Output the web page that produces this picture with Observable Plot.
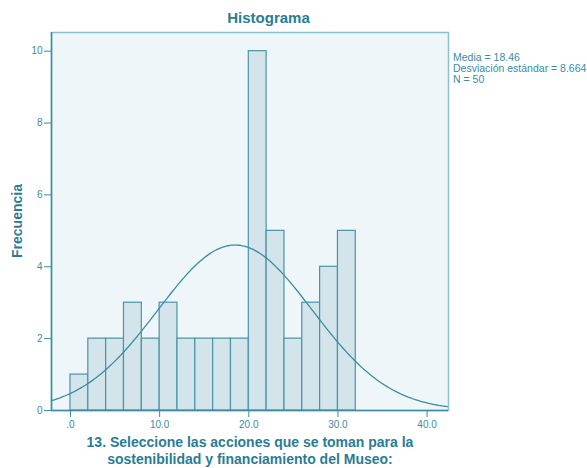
<!DOCTYPE html>
<html><head><meta charset="utf-8">
<script src="https://cdn.jsdelivr.net/npm/d3@7"></script>
<script src="https://cdn.jsdelivr.net/npm/@observablehq/plot@0.6"></script>
<style>
body{margin:0;background:#fff;font-family:"Liberation Sans",Arial,sans-serif;}
#wrap{position:relative;width:587px;height:468px;}
#wrap svg{position:absolute;left:0;top:0;}
.t{position:absolute;color:#2b7c93;white-space:nowrap;}
</style></head><body>
<div id="wrap">
<div class="t" style="left:0;width:537px;top:9px;text-align:center;font-size:15px;font-weight:bold;">Histograma</div>
<div class="t" style="left:453px;top:52px;font-size:10.5px;line-height:11px;color:#3a8ba2;">Media = 18.46<br>Desviación estándar = 8.664<br>N = 50</div>
<div class="t" style="left:17px;top:221px;transform:translate(-50%,-50%) rotate(-90deg);font-size:14px;font-weight:bold;">Frecuencia</div>
<div class="t" style="left:50px;width:400px;top:434px;text-align:center;font-size:14px;font-weight:bold;line-height:17px;">13. Seleccione las acciones que se toman para la<br>sostenibilidad y financiamiento del Museo:</div>
</div>
<script>
const binStarts = [0,2,4,6,8,10,12,14,16,18,20,22,24,26,28,30];
const binWidth = 2;
const counts = [1,2,2,3,2,3,2,2,2,2,10,5,2,3,4,5];
const mean = 18.46, sd = 8.664, n = 50;
const xTicks = [0,10,20,30,40];
const yTicks = [0,2,4,6,8,10];

const bins = binStarts.map((s,i)=>({x1:s, x2:s+binWidth, y:counts[i]}));
const xDom = [-2.13, 42.4];
const curve = d3.range(xDom[0], xDom[1]+0.001, 0.2).map(x=>({x, y: n*binWidth*Math.exp(-0.5*((x-mean)/sd)**2)/(sd*Math.sqrt(2*Math.PI))}));

const teal = "#3a8ba2";
const plot = Plot.plot({
  width:587, height:468,
  marginLeft:51, marginRight:139, marginTop:32, marginBottom:58,
  style:{fontFamily:"Liberation Sans, Arial, sans-serif", fontSize:"10px", color:teal, background:"transparent"},
  x:{domain:xDom, ticks:xTicks, tickFormat:d=>d===0?".0":d.toFixed(1), tickSize:7, tickPadding:3, label:null},
  y:{domain:[0,10.52], ticks:yTicks, tickSize:7, tickPadding:2, label:null},
  marks:[
    Plot.frame({fill:"#eff6f9", stroke:"#8cc0cf", strokeWidth:1.5}),
    Plot.rectY(bins,{x1:"x1",x2:"x2",y:"y",fill:"#d3e5eb",stroke:"#4a93a8",strokeWidth:1.2,inset:0}),
    Plot.line(curve,{x:"x",y:"y",stroke:"#3a8ea3",strokeWidth:1.3}),
    Plot.ruleX([xDom[0]],{stroke:"#3f8ba0",strokeWidth:1.5}),
    Plot.ruleY([0],{stroke:"#3f8ba0",strokeWidth:1.5}),
    Plot.axisX({ticks:xTicks, tickFormat:d=>d===0?".0":d.toFixed(1), tickSize:7, tickPadding:3, stroke:"#3f8ba0", label:null}),
    Plot.axisY({ticks:yTicks, tickSize:7, tickPadding:2, stroke:"#3f8ba0", label:null})
  ]
});
document.getElementById("wrap").prepend(plot);
</script>
</body></html>
